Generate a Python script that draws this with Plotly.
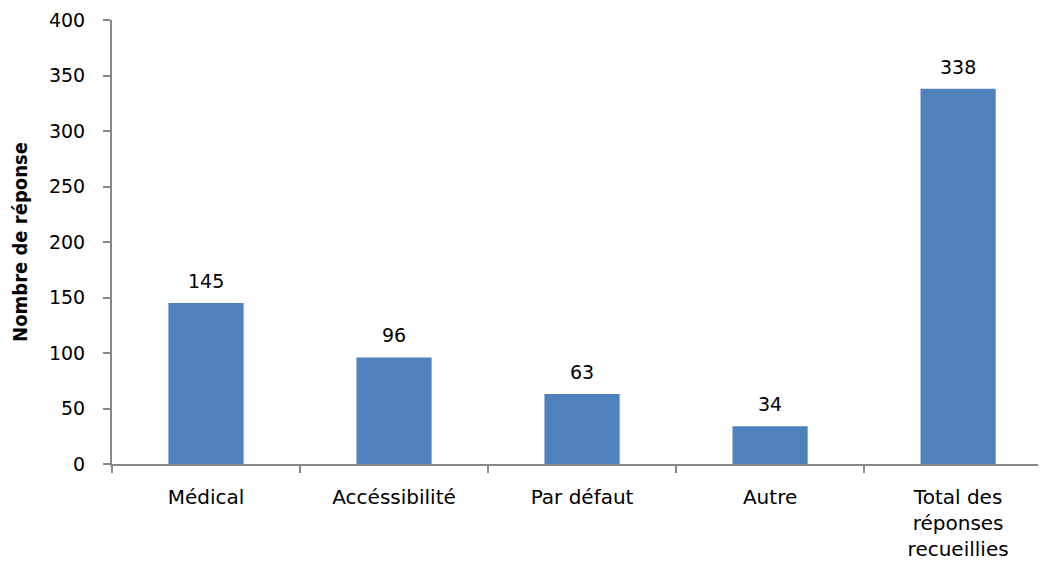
import plotly.graph_objects as go

categories = ["Médical", "Accéssibilité", "Par défaut", "Autre", "Total des<br>réponses<br>recueillies"]
values = [145, 96, 63, 34, 338]
y_ticks = [0, 50, 100, 150, 200, 250, 300, 350, 400]

fig = go.Figure(go.Bar(
    x=categories, y=values,
    marker=dict(color="#4F81BD", line=dict(width=0)),
    width=0.4,
    cliponaxis=False,
))

for c, v in zip(categories, values):
    fig.add_annotation(x=c, y=v, text=str(v), showarrow=False,
                       yanchor="bottom", yshift=9,
                       font=dict(family="DejaVu Sans", size=19, color="#000"))

fig.update_layout(
    width=1046, height=564,
    margin=dict(l=104, r=0, t=12, b=108),
    paper_bgcolor="white", plot_bgcolor="white",
    showlegend=False,
    font=dict(family="DejaVu Sans", size=19, color="#000"),
    xaxis=dict(
        range=[-0.5, 4.51],
        showline=True, linecolor="#888", linewidth=2,
        ticks="outside", tickson="boundaries", ticklen=7, tickcolor="#888", tickwidth=2,
        tickfont=dict(family="DejaVu Sans", size=20, color="#000"),
        ticklabelstandoff=14,
        showgrid=False, zeroline=False,
    ),
    yaxis=dict(
        range=[0, 400], tickvals=y_ticks,
        showline=True, linecolor="#888", linewidth=2,
        ticks="outside", ticklen=7, tickcolor="#888", tickwidth=2,
        tickfont=dict(family="DejaVu Sans", size=19, color="#000"),
        ticklabelstandoff=14,
        showgrid=False, zeroline=False,
        title=dict(text="<b>Nombre de réponse</b>",
                   font=dict(family="Liberation Sans Narrow, DejaVu Sans Condensed, Arial Narrow", size=20, color="#000"),
                   standoff=18),
    ),
)

fig.write_html("out.html")
